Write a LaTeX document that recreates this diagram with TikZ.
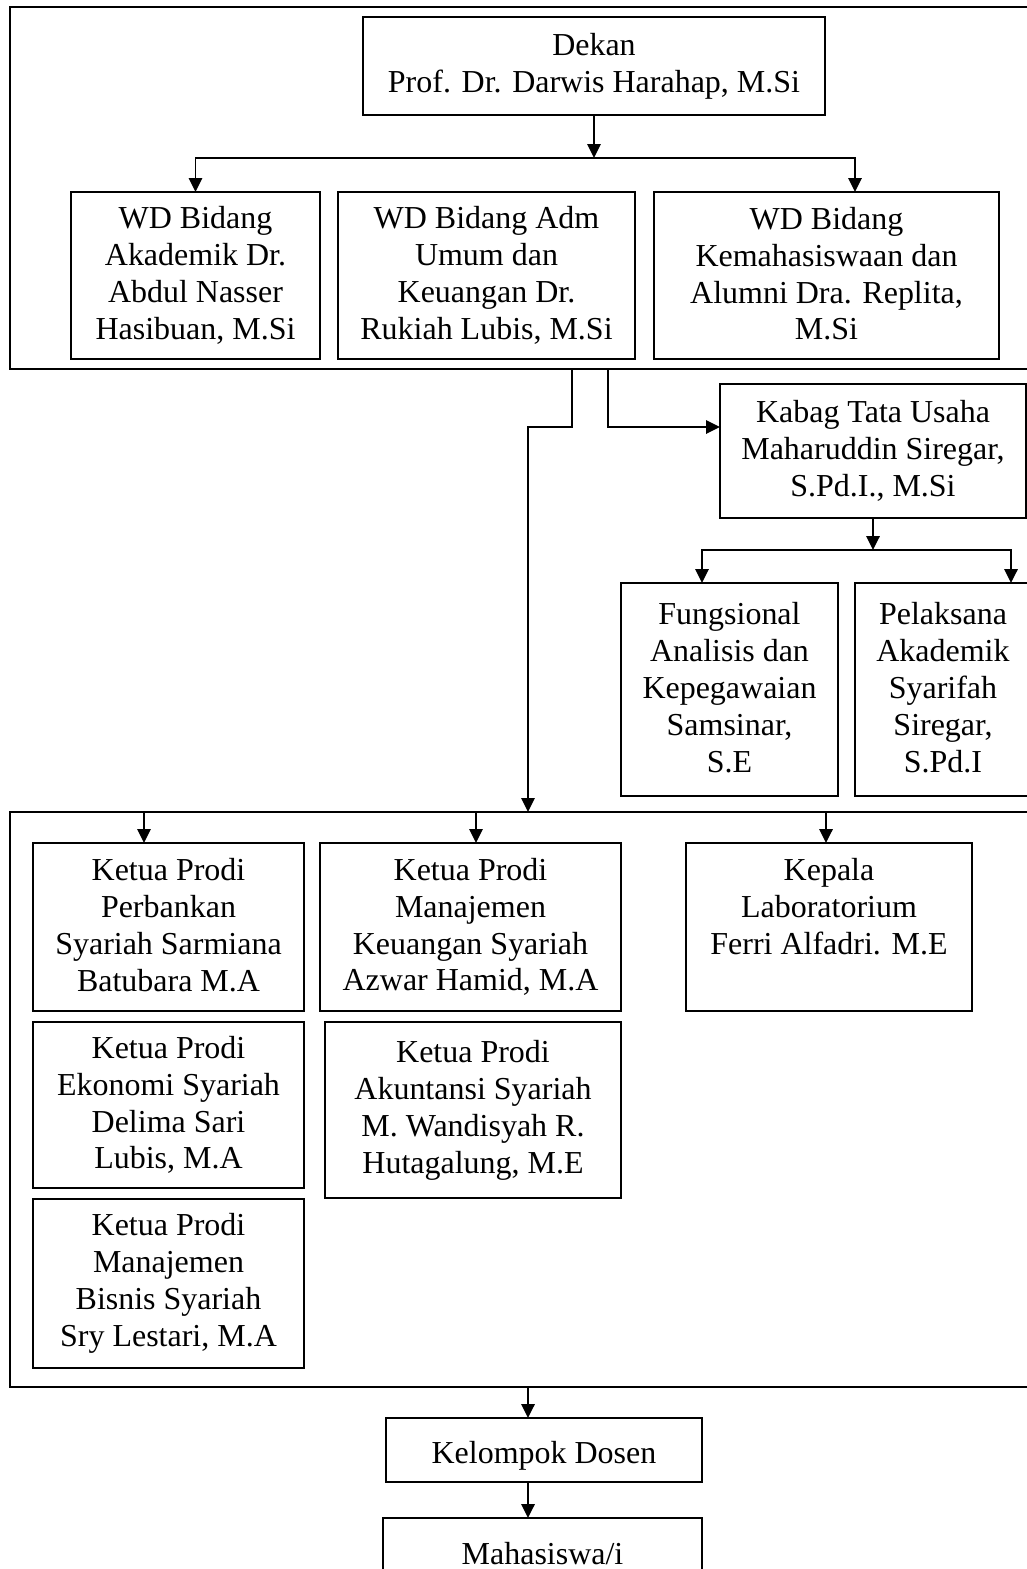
\documentclass[tikz,border=0pt]{standalone}
\usepackage{fontspec}
\setmainfont{Liberation Serif}
\usepackage{tikz}
\usetikzlibrary{arrows.meta, positioning, calc}
\tikzset{every node/.append style={align=center}}

\begin{document}
\begin{tikzpicture}[
    x=0.02cm, y=-0.02cm,
    font=\fontsize{18.2}{21}\selectfont,
    jab/.style={rectangle, draw, line width=1pt, inner sep=0pt, outer sep=0pt,
        execute at begin node=\rule{0pt}{18.7pt},
        execute at end node=\rule[-2.3pt]{0pt}{2.3pt}},
    bingkai/.style={rectangle, draw, line width=1.2pt, inner sep=0pt, outer sep=0pt,
        anchor=north west},
    uk/.style 2 args={minimum width=#1*0.02cm, minimum height=#2*0.02cm},
    a/.style={-{Triangle[length=2.8mm, width=2.7mm]}, line width=1pt}
]
\clip (0,0) rectangle (1027,1569);
% bingkai pimpinan dan prodi
\node[bingkai, uk={1040}{362}] (pimpinan) at (10,7) {};
\node[bingkai, uk={1040}{575}] (prodi) at (10,812) {};

\node[jab, uk={462}{98}] (dekan) at (594,66) {Dekan\\Prof. Dr. Darwis Harahap, M.Si};
\node[jab, uk={249}{167}] (wd1) at (195.5,275.5) {WD Bidang\\Akademik Dr.\\Abdul Nasser\\Hasibuan, M.Si};
\node[jab, uk={297}{167}] (wd2) at (486.5,275.5) {WD Bidang Adm\\Umum dan\\Keuangan Dr.\\Rukiah Lubis, M.Si};
\node[jab, uk={345}{167}] (wd3) at (826.5,275.5) {WD Bidang\\Kemahasiswaan dan\\Alumni Dra. Replita,\\M.Si};

\node[jab, uk={306}{134}] (kabag) at (873,451) {Kabag Tata Usaha\\Maharuddin Siregar,\\S.Pd.I., M.Si};
\node[jab, uk={217}{213}] (fungsional) at (729.5,689.5) {Fungsional\\Analisis dan\\Kepegawaian\\Samsinar,\\S.E};
\node[jab, uk={176}{213}] (pelaksana) at (943,689.5) {Pelaksana\\Akademik\\Syarifah\\Siregar,\\S.Pd.I};

\node[jab, uk={271}{168}] (kp1) at (168.5,927) {Ketua Prodi\\Perbankan\\Syariah Sarmiana\\Batubara M.A};
\node[jab, uk={301}{168}] (kp2) at (470.5,927) {Ketua Prodi\\Manajemen\\Keuangan Syariah\\Azwar Hamid, M.A};
\node[jab, uk={286}{168}] (lab) at (829,927) {Kepala\\Laboratorium\\Ferri Alfadri. M.E\\\mbox{}};
\node[jab, uk={271}{166}] (kp3) at (168.5,1105) {Ketua Prodi\\Ekonomi Syariah\\Delima Sari\\Lubis, M.A};
\node[jab, uk={296}{176}] (kp5) at (473,1110) {Ketua Prodi\\Akuntansi Syariah\\M. Wandisyah R.\\Hutagalung, M.E};
\node[jab, uk={271}{169}] (kp4) at (168.5,1283.5) {Ketua Prodi\\Manajemen\\Bisnis Syariah\\Sry Lestari, M.A};

\node[jab, uk={316}{64}] (dosen) at (544,1450) {Kelompok Dosen};
\node[jab, uk={319}{64}] (mhs) at (542.5,1550) {Mahasiswa/i};

% garis komando
\coordinate (bus1) at (594,158);
\coordinate (wd3in) at (855,192);
\draw[a] (dekan) -- (bus1);
\draw[a] (bus1) -| (wd1.north);
\draw[a] (bus1) -| (wd3in);

\coordinate (belok) at (528,427);
\draw[a] (572,0 |- pimpinan.south) |- (belok) -- (belok |- prodi.north);
\draw[a] (608,0 |- pimpinan.south) |- (kabag.west |- belok);

\coordinate (bus2) at (873,550);
\draw[a] (kabag) -- (bus2);
\draw[a] (bus2) -| (702,0 |- fungsional.north);
\draw[a] (bus2) -| (1011,0 |- pelaksana.north);

\foreach \x/\n in {144/kp1, 476/kp2, 826/lab}
  \draw[a] (\x,0 |- prodi.north) -- (\x,0 |- \n.north);

\draw[a] (528,0 |- prodi.south) -- (528,0 |- dosen.north);
\draw[a] (528,0 |- dosen.south) -- (528,0 |- mhs.north);
\end{tikzpicture}
\end{document}
